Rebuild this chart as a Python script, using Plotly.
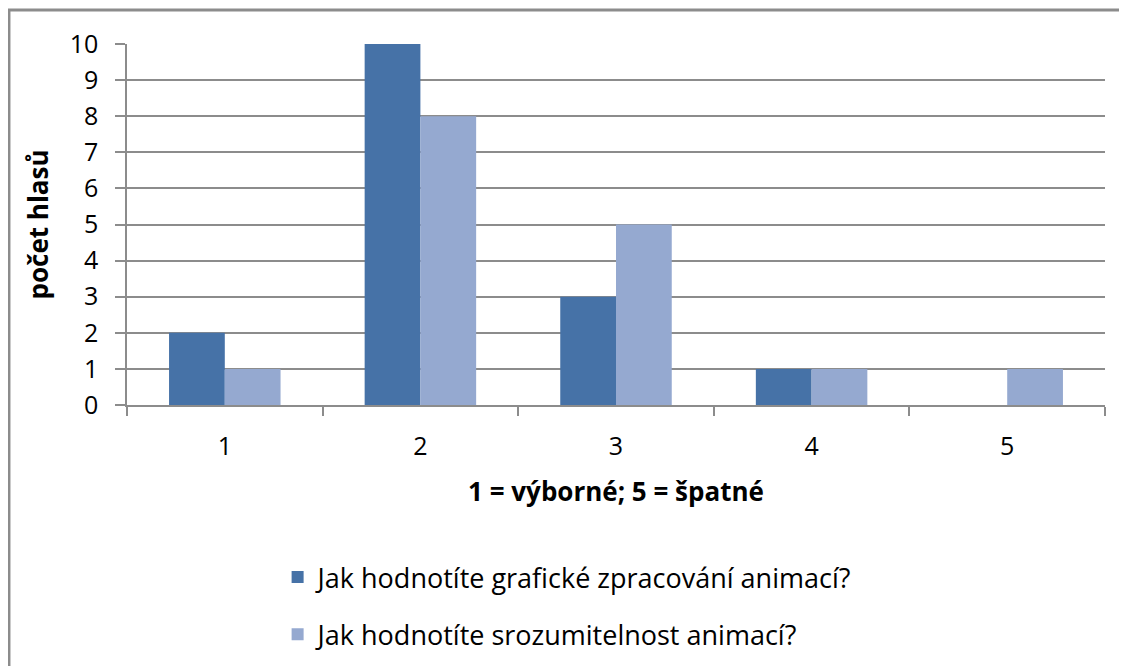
import plotly.graph_objects as go

# hodnocení 1-5, počet hlasů
categories = ["1", "2", "3", "4", "5"]
graficke = [2, 10, 3, 1, 0]
srozumitelnost = [1, 8, 5, 1, 1]
series_names = [
    "Jak hodnotíte grafické zpracování animací?",
    "Jak hodnotíte srozumitelnost animací?",
]

font_family = "Open Sans, Lato, sans-serif"
grid_color = "#8c8c8c"

fig = go.Figure()
fig.add_trace(go.Bar(x=categories, y=graficke, name=series_names[0],
                     marker=dict(color="#4672a7", line=dict(width=0)),
                     legendgroup="a"))
fig.add_trace(go.Bar(x=categories, y=srozumitelnost, name=series_names[1],
                     marker=dict(color="#95a9d0", line=dict(width=0)),
                     legendgroup="b"))

fig.update_layout(
    width=1127, height=666,
    margin=dict(l=119, r=30, t=36, b=269),
    paper_bgcolor="white", plot_bgcolor="white",
    barmode="group", bargap=0.43, bargroupgap=0,
    font=dict(family=font_family, color="#000000", size=25),
    showlegend=True,
    legend=dict(x=0.154, y=-0.41, xanchor="left", yanchor="top",
                orientation="v", tracegroupgap=19,
                font=dict(size=27), bgcolor="rgba(0,0,0,0)"),
    xaxis=dict(
        type="category", showgrid=False,
        showline=True, linecolor=grid_color, linewidth=1.5,
        ticks="outside", tickson="boundaries", ticklen=9,
        tickcolor=grid_color, tickwidth=1.5,
        ticklabelstandoff=18,
        title=dict(text="<b>1 = výborné; 5 = špatné</b>",
                   font=dict(size=26), standoff=22),
    ),
    yaxis=dict(
        range=[0, 10], dtick=1,
        showgrid=True, gridcolor=grid_color, gridwidth=1.5,
        showline=True, linecolor=grid_color, linewidth=1.5,
        ticks="outside", ticklen=10, tickcolor=grid_color, tickwidth=1.5,
        ticklabelstandoff=12, zeroline=False,
        title=dict(text="<b>počet hlasů</b>", font=dict(size=26), standoff=14),
    ),
    shapes=[dict(type="rect", xref="paper", yref="paper",
                 x0=-0.1207, x1=1.05, y0=-1.0, y1=1.094,
                 line=dict(color="#8c8c8c", width=3))],
)

fig.write_html("out.html")
